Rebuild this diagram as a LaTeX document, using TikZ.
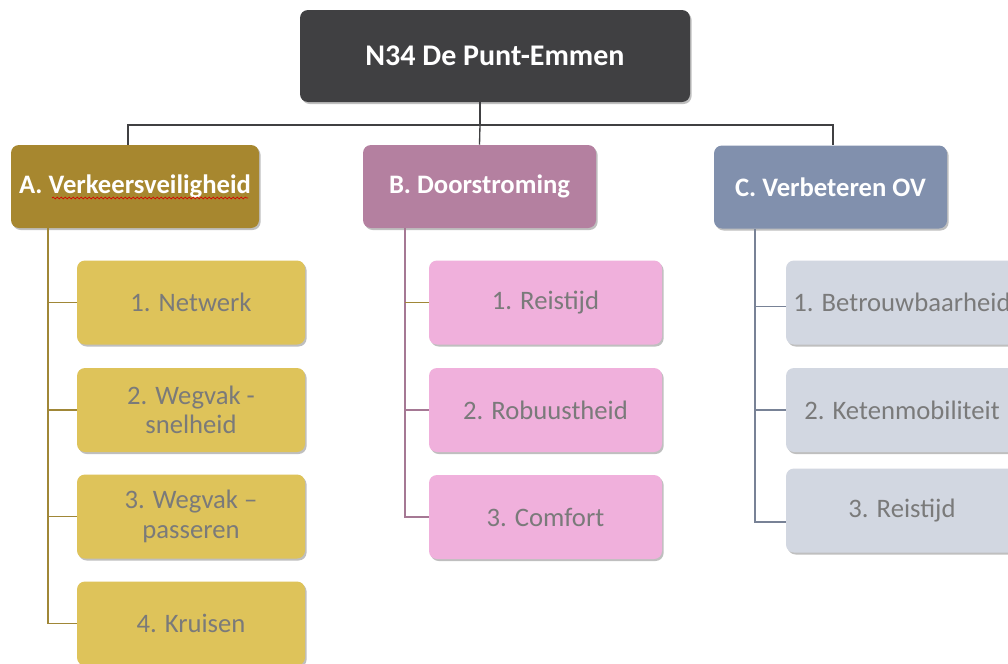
\documentclass[tikz,border=0pt]{standalone}
\usepackage{fontspec}
\setmainfont{Carlito}
\usetikzlibrary{shadows,decorations.pathmorphing}
\definecolor{topc}{RGB}{64,64,66}
\definecolor{acol}{RGB}{167,135,47}
\definecolor{achl}{RGB}{222,195,90}
\definecolor{alin}{RGB}{160,135,55}
\definecolor{bcol}{RGB}{180,128,160}
\definecolor{bchl}{RGB}{240,176,220}
\definecolor{blin}{RGB}{165,120,148}
\definecolor{ccol}{RGB}{129,144,173}
\definecolor{cchl}{RGB}{210,215,225}
\definecolor{clin}{RGB}{120,130,150}
\definecolor{chtxt}{RGB}{122,122,122}
\tikzset{
  box/.style={rounded corners=6pt, inner sep=2pt, align=center,
    drop shadow={shadow xshift=1.2pt, shadow yshift=-1.5pt, opacity=0.25, fill=black}},
  topbox/.style={box, fill=topc, text=white, font=\fontsize{22.5}{26}\selectfont\bfseries,
    minimum width=292.5pt, minimum height=69pt},
  catbox/.style={box, text=white, font=\fontsize{20}{24}\selectfont\bfseries,
    minimum width=174.75pt, minimum height=62.25pt},
  chbox/.style={box, text=chtxt, font=\fontsize{20}{22}\selectfont,
    minimum width=171pt, minimum height=63pt},
  conn/.style={line width=1pt},
}
\begin{document}
\begin{tikzpicture}[x=0.75pt,y=-0.75pt]
\clip (0,0) rectangle (1008,664);
\fill[white] (0,0) rectangle (1008,664);
% top
\node[topbox] (top) at (495,56) {N34 De Punt-Emmen};
% categories
\node[catbox, fill=acol, minimum width=186pt] (A) at (135,186.5) {A. Verkeersveiligheid};
\node[catbox, fill=bcol] (B) at (479.5,186.5) {B. Doorstroming};
\node[catbox, fill=ccol] (C) at (830.5,187) {C. Verbeteren OV};
% A children
\node[chbox, fill=achl] (a1) at (191,302.5) {1. Netwerk};
\node[chbox, fill=achl] (a2) at (191,410) {2. Wegvak -\\snelheid};
\node[chbox, fill=achl] (a3) at (191,516.5) {3. Wegvak –\\passeren};
\node[chbox, fill=achl] (a4) at (191,623.5) {4. Kruisen};
% B children
\node[chbox, fill=bchl, minimum width=174.75pt] (b1) at (545.5,302.5) {1. Reistijd};
\node[chbox, fill=bchl, minimum width=174.75pt] (b2) at (545.5,410) {2. Robuustheid};
\node[chbox, fill=bchl, minimum width=174.75pt] (b3) at (545.5,517) {3. Comfort};
% C children
\node[chbox, fill=cchl, minimum width=174pt] (c1) at (902,302.5) {1. Betrouwbaarheid};
\node[chbox, fill=cchl, minimum width=174pt] (c2) at (902,410) {2. Ketenmobiliteit};
\node[chbox, fill=cchl, minimum width=174pt] (c3) at (902,510.5) {3. Reistijd};
% spell-check squiggle
\draw[red!85!black, line width=0.5pt, decorate, decoration={snake, amplitude=0.7pt, segment length=3pt}]
  (52,198) -- (248,198);
% top connectors
\coordinate (hub) at (480,125);
\draw[conn, topc] (top.south -| hub) -- (hub);
\draw[conn, topc] ([xshift=-5.25pt]A.north) |- (hub) -| ([xshift=1.9pt]C.north);
\draw[conn, topc] (hub) -- (B.north);
% A trunk
\coordinate (ta) at (48,228);
\draw[conn, alin] (ta) |- (a4.west);
\draw[conn, alin] (ta |- a1.west) -- (a1.west);
\draw[conn, alin] (ta |- a2.west) -- (a2.west);
\draw[conn, alin] (ta |- a3.west) -- (a3.west);
% B trunk
\coordinate (tb) at (405,228);
\draw[conn, blin] (tb) |- (b3.west);
\draw[conn, alin] (tb |- b1.west) -- (b1.west);
\draw[conn, blin] (tb |- b2.west) -- (b2.west);
% C trunk
\coordinate (tc) at (755,229);
\coordinate (c1in) at ([yshift=-3pt]c1.west);
\coordinate (c3in) at ([yshift=-8.6pt]c3.west);
\draw[conn, clin] (tc) |- (c3in);
\draw[conn, clin] (tc |- c1in) -- (c1in);
\draw[conn, clin] (tc |- c2.west) -- (c2.west);
\end{tikzpicture}
\end{document}
